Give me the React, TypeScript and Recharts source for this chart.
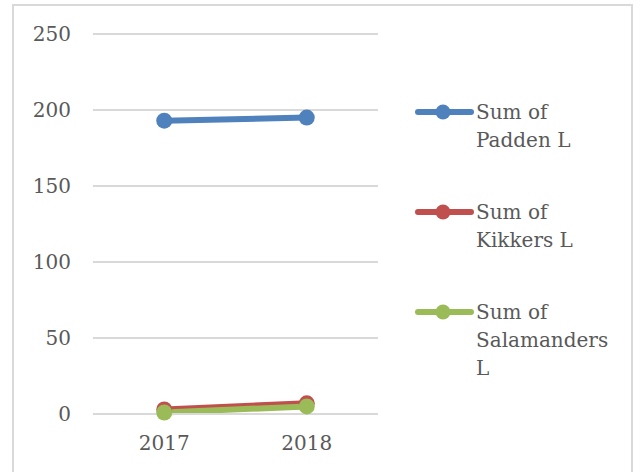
import { CartesianGrid, Legend, Line, LineChart, XAxis, YAxis } from "recharts"

const years = ["2017", "2018"]
const padden = [193, 195]
const kikkers = [3, 7]
const salamanders = [1, 5]
const yTicks = [0, 50, 100, 150, 200, 250]

const series = [
    { key: "padden", name: "Sum of Padden L", color: "#4f81bd" },
    { key: "kikkers", name: "Sum of Kikkers L", color: "#c0504d" },
    { key: "salamanders", name: "Sum of Salamanders L", color: "#9bbb59" },
]

const data = years.map((year, i) => ({
    year,
    padden: padden[i],
    kikkers: kikkers[i],
    salamanders: salamanders[i],
}))

const font = "'DejaVu Serif', serif"
const textColor = "#595959"

// legend keeps the series order (recharts sorts its payload by name)
function LegendContent() {
    return (
        <div style={{ position: "relative", width: 200, height: 300 }}>
            {series.map((s, i) => (
                <div
                    key={s.key}
                    style={{ position: "absolute", left: 0, top: i * 100, display: "flex" }}
                >
                    <svg width={61} height={28} style={{ flex: "none" }}>
                        <line x1={3} y1={14} x2={56} y2={14} stroke={s.color} strokeWidth={6} strokeLinecap="round" />
                        <circle cx={28} cy={14} r={7.5} fill={s.color} />
                    </svg>
                    <div
                        style={{
                            width: 140,
                            fontFamily: font,
                            fontSize: 20,
                            lineHeight: "28px",
                            color: textColor,
                        }}
                    >
                        {s.name}
                    </div>
                </div>
            ))}
        </div>
    )
}

export default function App() {
    return (
        <div style={{ position: "absolute", left: 0, top: 0, width: 644, height: 472, background: "#fff", overflow: "hidden" }}>
            <div
                style={{
                    position: "absolute",
                    left: 12,
                    top: 4,
                    width: 621,
                    height: 500,
                    border: "2px solid #d9d9d9",
                    boxSizing: "border-box",
                }}
            />
            <div style={{ position: "absolute", left: 0, top: 0 }}>
                <LineChart width={644} height={472} data={data} margin={{ top: 34, right: 56, bottom: 0, left: 0 }}>
                    <CartesianGrid vertical={false} stroke="#d9d9d9" strokeWidth={2} />
                    <XAxis
                        dataKey="year"
                        scale="band"
                        height={58}
                        interval={0}
                        axisLine={{ stroke: "#d9d9d9", strokeWidth: 2 }}
                        tickLine={false}
                        tickSize={0}
                        tickMargin={22}
                        tick={{ fill: textColor, fontSize: 20, fontFamily: font }}
                    />
                    <YAxis
                        domain={[0, 250]}
                        ticks={yTicks}
                        width={93}
                        axisLine={false}
                        tickLine={false}
                        tickSize={0}
                        tickMargin={22}
                        tick={{ fill: textColor, fontSize: 20, fontFamily: font }}
                    />
                    <Legend
                        layout="vertical"
                        align="right"
                        verticalAlign="top"
                        content={<LegendContent />}
                        wrapperStyle={{ left: 415, top: 98, width: 210 }}
                    />
                    {series.map((s) => (
                        <Line
                            key={s.key}
                            dataKey={s.key}
                            name={s.name}
                            stroke={s.color}
                            strokeWidth={6}
                            dot={{ r: 8, fill: s.color, stroke: s.color, strokeWidth: 0 }}
                            activeDot={false}
                            isAnimationActive={false}
                        />
                    ))}
                </LineChart>
            </div>
        </div>
    )
}
